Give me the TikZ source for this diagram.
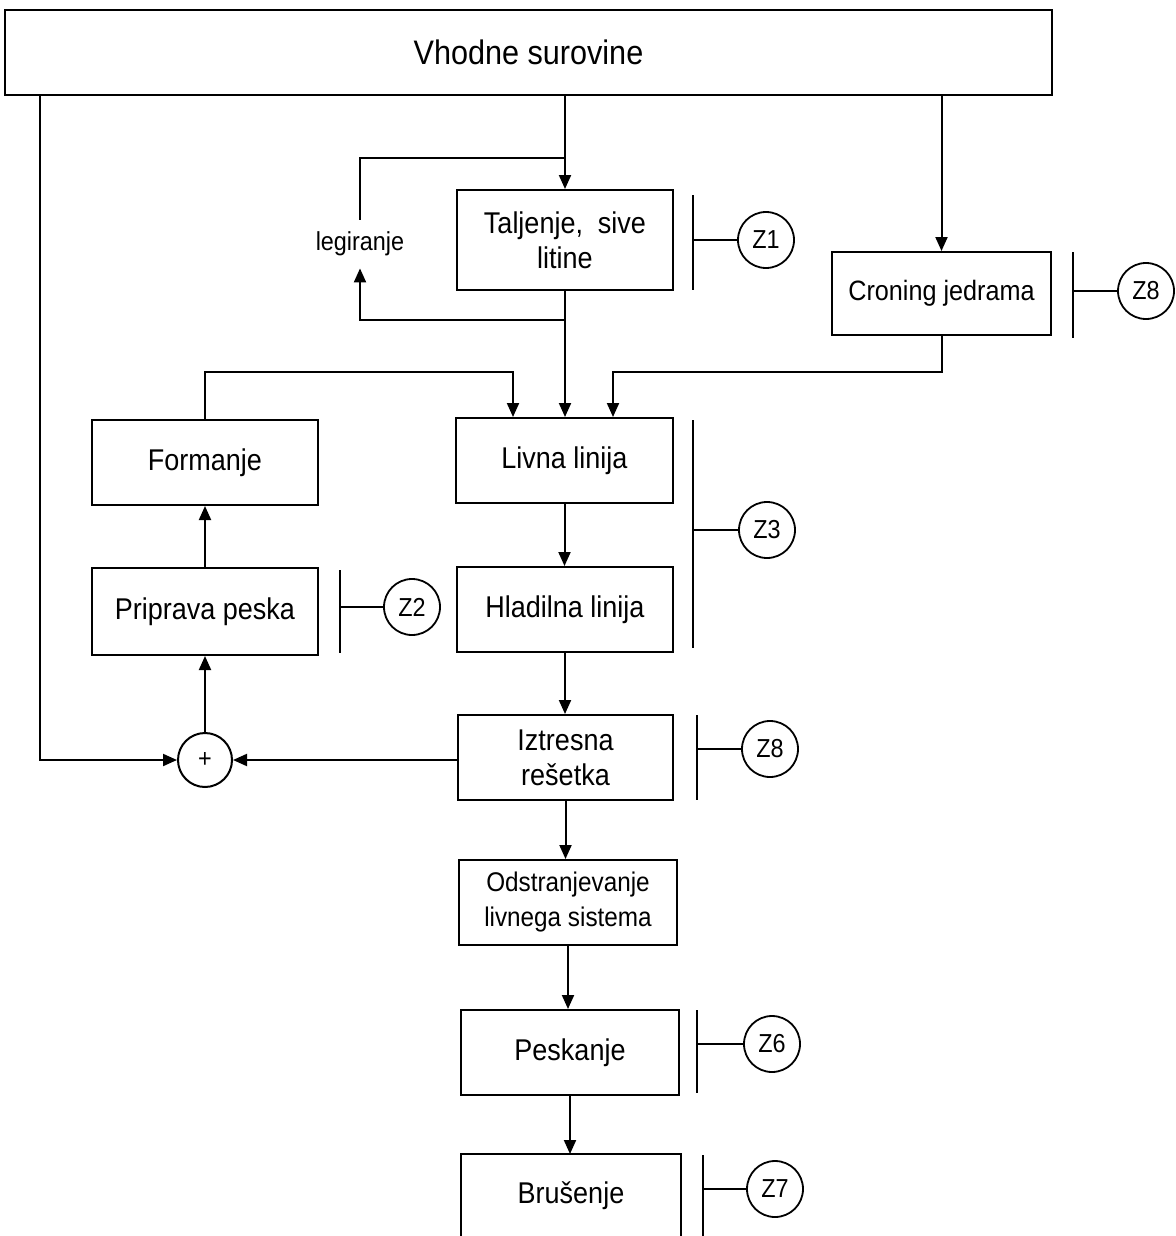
\documentclass[tikz,border=0pt]{standalone}
\usepackage{fontspec}
\setmainfont[FakeStretch=0.9]{Liberation Sans}
\usetikzlibrary{arrows.meta,calc}
\begin{document}
\begin{tikzpicture}[x=0.5pt,y=-0.5pt,
 box/.style={draw,line width=1pt,rectangle,inner sep=0pt,align=center,font=\fontsize{15}{17.5}\selectfont},
 zc/.style={draw,circle,line width=0.9pt,minimum size=28pt,inner sep=0pt,font=\fontsize{13}{14}\selectfont},
 arr/.style={line width=1pt,-{Triangle[length=7pt,width=6pt]}},
 ln/.style={line width=1pt},
 br/.style={line width=1pt}]
\useasboundingbox (0,0) rectangle (1176,1236);

% boxes
\node[box,minimum width=523.5pt,minimum height=42.5pt,font=\fontsize{17}{19}\selectfont] (top) at (528.5,52.5) {Vhodne surovine};
\node[box,minimum width=108pt,minimum height=50pt] (tal) at (565,240) {Taljenje,\ \ sive\\litine};
\node[box,minimum width=109.5pt,minimum height=41.5pt,font=\fontsize{14}{17}\selectfont] (cron) at (941.5,293.5) {Croning jedrama};
\node[box,minimum width=113pt,minimum height=42.5pt] (form) at (205,462.5) {Formanje};
\node[box,minimum width=108.5pt,minimum height=42.5pt] (livna) at (564.5,460.5) {Livna linija};
\node[box,minimum width=108pt,minimum height=42.5pt] (hlad) at (565,609.5) {Hladilna linija};
\node[box,minimum width=113pt,minimum height=43.5pt] (prip) at (205,611.5) {Priprava peska};
\node[box,minimum width=107.5pt,minimum height=42.5pt] (izt) at (565.5,757.5) {Iztresna\\re\v{s}etka};
\node[box,minimum width=109pt,minimum height=42.5pt,font=\fontsize{13.5}{17.5}\selectfont] (odst) at (568,902.5) {Odstranjevanje\\livnega sistema};
\node[box,minimum width=109pt,minimum height=42.5pt] (pesk) at (570,1052.5) {Peskanje};
\node[box,draw=none,minimum width=109pt,minimum height=40.5pt] (brus) at (571,1195.5) {Bru\v{s}enje};
\draw[ln] (brus.south west) -- (brus.north west) -- (brus.north east) -- (brus.south east);

% plus circle
\node[draw,circle,line width=1pt,minimum size=27pt,inner sep=0pt,font=\fontsize{13}{14}\selectfont] (plus) at (205,760) {+};

% legiranje label
\node[inner sep=0pt,minimum height=24pt,font=\fontsize{13}{14}\selectfont] (leg) at (360,244) {legiranje};

% Z circles
\node[zc] (z1) at (766,240) {Z1};
\node[zc] (z8a) at (1146,291) {Z8};
\node[zc] (z3) at (767,530) {Z3};
\node[zc] (z2) at (412,607) {Z2};
\node[zc] (z8b) at (770,749) {Z8};
\node[zc] (z6) at (772,1044) {Z6};
\node[zc] (z7) at (775,1189) {Z7};

% brackets
\draw[br] (693,195) -- (693,290);
\coordinate (b1) at (693,240); \draw[br] (b1) -- (z1);
\draw[br] (1073,252) -- (1073,338);
\coordinate (b8a) at (1073,291); \draw[br] (b8a) -- (z8a);
\draw[br] (693,420) -- (693,648);
\coordinate (b3) at (693,530); \draw[br] (b3) -- (z3);
\draw[br] (340,570) -- (340,653);
\coordinate (b2) at (340,607); \draw[br] (b2) -- (z2);
\draw[br] (697,715) -- (697,800);
\coordinate (b8b) at (697,749); \draw[br] (b8b) -- (z8b);
\draw[br] (697,1010) -- (697,1093);
\coordinate (b6) at (697,1044); \draw[br] (b6) -- (z6);
\draw[br] (703,1155) -- (703,1236);
\coordinate (b7) at (703,1189); \draw[br] (b7) -- (z7);

% connectors
\coordinate (lft) at (40,95);
\draw[arr] (lft) |- (plus.west);
\draw[arr] (tal.north |- top.south) -- (tal.north);
\draw[arr] (cron.north |- top.south) -- (cron.north);

\coordinate (legtop) at (360,158);
\coordinate (legbot) at (360,320);
\draw[ln] (tal.north |- legtop) -- (legtop) -- (leg.north);
\draw[arr] (tal.south |- legbot) -- (legbot) -- (leg.south);

\draw[arr] (tal.south) -- (tal.south |- livna.north);
\coordinate (cr) at (613,372);
\draw[arr] (cron.south) |- (cr) -- (cr |- livna.north);
\coordinate (fm) at (513,372);
\draw[arr] (form.north) |- (fm) -- (fm |- livna.north);

\draw[arr] (livna.south) -- (livna.south |- hlad.north);
\draw[arr] (hlad.south) -- (hlad.south |- izt.north);
\draw[arr] (izt.west |- plus.east) -- (plus.east);
\draw[arr] (plus.north) -- (prip.south);
\draw[arr] (prip.north) -- (form.south);
\draw[arr] (izt.south) -- (izt.south |- odst.north);
\draw[arr] (odst.south) -- (odst.south |- pesk.north);
\draw[arr] (pesk.south) -- (pesk.south |- brus.north);
\end{tikzpicture}
\end{document}
